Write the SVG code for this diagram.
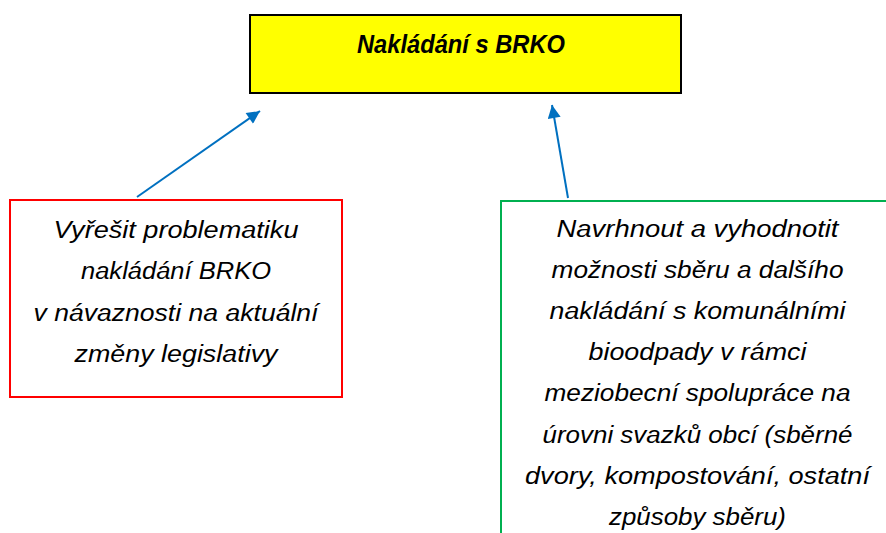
<svg xmlns="http://www.w3.org/2000/svg" width="886" height="533" viewBox="0 0 886 533">
  <defs>
    <marker id="arrow" viewBox="0 0 10 10" refX="10" refY="5" markerWidth="8" markerHeight="6.5" orient="auto" markerUnits="strokeWidth">
      <path d="M0,0 L10,5 L0,10 Z" fill="#0070C0"/>
    </marker>
    <style>
      .t { font-family: "Liberation Sans", Arial, sans-serif; font-style: italic; font-size: 23.5px; fill: #000; text-anchor: middle; }
      .title { font-family: "Liberation Sans", Arial, sans-serif; font-style: italic; font-weight: bold; font-size: 25.5px; fill: #000; text-anchor: middle; }
      .conn { stroke: #0070C0; stroke-width: 2; fill: none; marker-end: url(#arrow); }
    </style>
  </defs>
  <rect width="886" height="533" fill="#FFFFFF"/>

  <g id="connectors">
    <line class="conn" x1="137" y1="197" x2="260" y2="111"/>
    <line class="conn" x1="568" y1="198" x2="552" y2="105"/>
  </g>

  <g id="node-main">
    <rect x="250" y="15" width="431" height="78" fill="#FFFF00" stroke="#000" stroke-width="2"/>
    <text class="title" x="461" y="52.5" textLength="208" lengthAdjust="spacingAndGlyphs">Nakládání s BRKO</text>
  </g>

  <g id="node-left">
    <rect x="10" y="200" width="332" height="197" fill="none" stroke="#FF0000" stroke-width="2"/>
    <text class="t" x="176" y="237.5" textLength="245" lengthAdjust="spacingAndGlyphs">Vyřešit problematiku</text>
    <text class="t" x="176" y="279" textLength="190" lengthAdjust="spacingAndGlyphs">nakládání BRKO</text>
    <text class="t" x="176" y="320.5" textLength="285" lengthAdjust="spacingAndGlyphs">v návaznosti na aktuální</text>
    <text class="t" x="176" y="362" textLength="203" lengthAdjust="spacingAndGlyphs">změny legislativy</text>
  </g>

  <g id="node-right">
    <rect x="501" y="201" width="392" height="345" fill="none" stroke="#00B050" stroke-width="2"/>
    <text class="t" x="697.5" y="237" textLength="282" lengthAdjust="spacingAndGlyphs">Navrhnout a vyhodnotit</text>
    <text class="t" x="697.5" y="278.1" textLength="292" lengthAdjust="spacingAndGlyphs">možnosti sběru a dalšího</text>
    <text class="t" x="697.5" y="319.2" textLength="296" lengthAdjust="spacingAndGlyphs">nakládání s komunálními</text>
    <text class="t" x="697.5" y="360.3" textLength="218" lengthAdjust="spacingAndGlyphs">bioodpady v rámci</text>
    <text class="t" x="697.5" y="401.4" textLength="306" lengthAdjust="spacingAndGlyphs">meziobecní spolupráce na</text>
    <text class="t" x="697.5" y="442.5" textLength="310" lengthAdjust="spacingAndGlyphs">úrovni svazků obcí (sběrné</text>
    <text class="t" x="697.5" y="483.6" textLength="345" lengthAdjust="spacingAndGlyphs">dvory, kompostování, ostatní</text>
    <text class="t" x="697.5" y="524.7" textLength="177" lengthAdjust="spacingAndGlyphs">způsoby sběru)</text>
  </g>
</svg>
